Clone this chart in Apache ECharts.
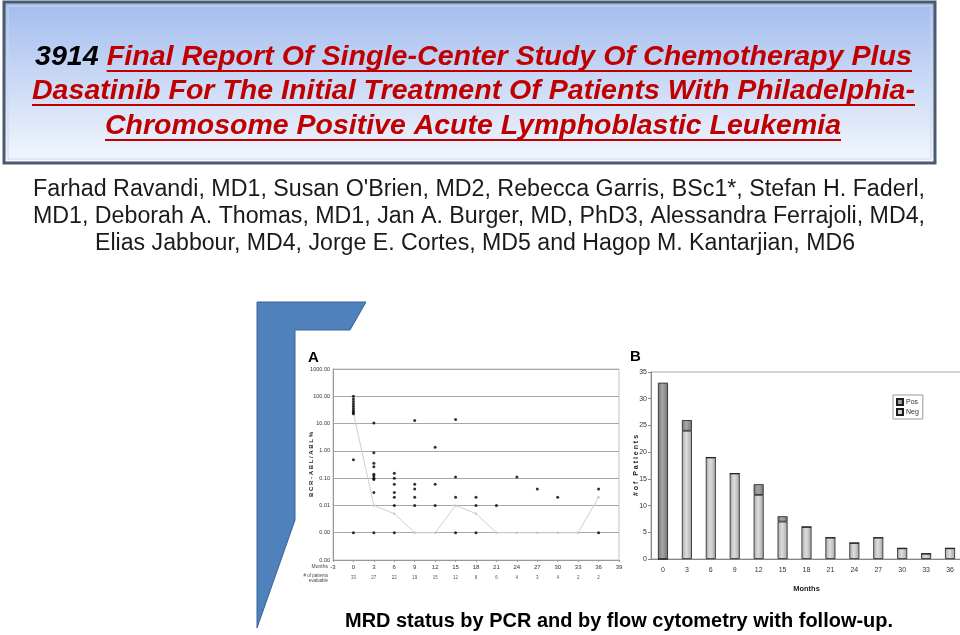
<!DOCTYPE html>
<html><head><meta charset="utf-8">
<script src="https://cdn.jsdelivr.net/npm/echarts@6/dist/echarts.min.js"></script>
<style>html,body{margin:0;padding:0;background:#fff}#c{width:960px;height:635px}</style>
</head><body><div id="c"></div>
<script>
// ---------- texts ----------
const titleNumber = '3914 ';
const titleLines = [
  'Final Report Of Single-Center Study Of Chemotherapy Plus',
  'Dasatinib For The Initial Treatment Of Patients With Philadelphia-',
  'Chromosome Positive Acute Lymphoblastic Leukemia'
];
const authorLines = [
  "Farhad Ravandi, MD1, Susan O'Brien, MD2, Rebecca Garris, BSc1*, Stefan H. Faderl,",
  'MD1, Deborah A. Thomas, MD1, Jan A. Burger, MD, PhD3, Alessandra Ferrajoli, MD4,',
  'Elias Jabbour, MD4, Jorge E. Cortes, MD5 and Hagop M. Kantarjian, MD6'
];
const captionText = 'MRD status by PCR and by flow cytometry with follow-up.';

// ---------- panel A data ----------
const evaluableMonths = [0, 3, 6, 9, 12, 15, 18, 21, 24, 27, 30, 33, 36];
const evaluableCounts = [33, 27, 22, 19, 15, 12, 8, 6, 4, 3, 4, 2, 2];
const pcrPoints = [
  [0,100],[0,80],[0,65],[0,52],[0,43],[0,36],[0,30],[0,26],[0,23],[0,0.47],[0,0.001],
  [3,10.5],[3,0.85],[3,0.35],[3,0.26],[3,0.14],[3,0.12],[3,0.1],[3,0.09],[3,0.03],[3,0.001],
  [6,0.15],[6,0.1],[6,0.06],[6,0.03],[6,0.02],[6,0.01],[6,0.001],
  [9,13],[9,0.06],[9,0.04],[9,0.02],[9,0.01],
  [12,1.35],[12,0.06],[12,0.01],
  [15,14],[15,0.11],[15,0.02],[15,0.001],
  [18,0.02],[18,0.01],[18,0.001],
  [21,0.01],
  [24,0.11],
  [27,0.04],
  [30,0.02],
  [36,0.04],[36,0.001]
];
const medianMonths = [0, 3, 6, 9, 12, 15, 18, 21, 24, 27, 30, 33, 36];
const medianValues = [24, 0.01, 0.005, 0.001, 0.001, 0.01, 0.005, 0.001, 0.001, 0.001, 0.001, 0.001, 0.02];

// ---------- panel B data ----------
const barCategories = ['0','3','6','9','12','15','18','21','24','27','30','33','36'];
const negValues = [0, 24, 19, 16, 12, 7, 6, 4, 3, 4, 2, 1, 2];
const posValues = [33, 2, 0, 0, 2, 1, 0, 0, 0, 0, 0, 0, 0];

// ---------- helpers ----------
const FF = '"Liberation Sans", Arial, sans-serif';
const mctx = document.createElement('canvas').getContext('2d');
function measure(t, size, weight, style) {
  mctx.font = (style || 'normal') + ' ' + (weight || 'normal') + ' ' + size + 'px ' + FF;
  return mctx.measureText(t).width;
}
function txt(x, y, text, size, o) {
  o = o || {};
  return {
    type: 'text', x: x, y: y, scaleX: o.sx || 1, z: o.z || 10, silent: true,
    style: {
      text: text, fontSize: size, fontFamily: FF, fontWeight: o.weight || 'normal',
      fontStyle: o.style || 'normal', fill: o.fill || '#222',
      textAlign: o.align || 'left', align: o.align || 'left',
      textVerticalAlign: 'middle', verticalAlign: 'middle'
    }
  };
}
const g = [];

// title box
g.push({ type: 'rect', z: 1, silent: true, shape: { x: 4, y: 2, width: 931, height: 161 },
  style: { fill: new echarts.graphic.LinearGradient(0, 0, 0, 1, [
    { offset: 0, color: '#a2bcee' }, { offset: 1, color: '#f4f7fd' }]),
    stroke: '#4b5a70', lineWidth: 3 } });
g.push({ type: 'rect', z: 2, silent: true, shape: { x: 8, y: 6, width: 923, height: 153 },
  style: { fill: null, stroke: '#cfd8e8', lineWidth: 1 } });

// title lines
const TS = 28;
const titleTargets = [[35, 912, 57], [32, 915, 91], [105, 841, 126]];
titleLines.forEach(function (line, i) {
  const t = titleTargets[i];
  const pre = i === 0 ? titleNumber : '';
  const w0 = pre ? measure(pre, TS, 'bold', 'italic') : 0;
  const w1 = measure(line, TS, 'bold', 'italic');
  const sx = (t[1] - t[0]) / (w0 + w1);
  if (pre) g.push(txt(t[0], t[2], pre, TS, { sx: sx, weight: 'bold', style: 'italic', fill: '#000' }));
  const xr = t[0] + w0 * sx;
  g.push(txt(xr, t[2], line, TS, { sx: sx, weight: 'bold', style: 'italic', fill: '#c00000' }));
  g.push({ type: 'line', z: 10, silent: true, shape: { x1: xr, y1: t[2] + 14, x2: t[1], y2: t[2] + 14 },
    style: { stroke: '#c00000', lineWidth: 2 } });
});

// authors
const AS = 23;
const authorTargets = [[33, 925, 190], [33, 925, 217], [95, 855, 244]];
authorLines.forEach(function (line, i) {
  const t = authorTargets[i];
  const sx = (t[1] - t[0]) / measure(line, AS);
  g.push(txt(t[0], t[2], line, AS, { sx: sx, fill: '#1a1a1a' }));
});

// caption
(function () {
  const sx = (893 - 345) / measure(captionText, 20, 'bold');
  g.push(txt(345, 621, captionText, 20, { sx: sx, weight: 'bold', fill: '#000' }));
})();

// blue shape
g.push({ type: 'polygon', z: 1, silent: true,
  shape: { points: [[257, 302], [366, 302], [350, 330], [295, 330], [295, 520], [257, 628]] },
  style: { fill: '#4f81bd', stroke: '#3a6297', lineWidth: 1 } });

// panel letters
g.push(txt(308, 358, 'A', 15, { weight: 'bold', fill: '#000' }));
g.push(txt(630, 357, 'B', 15, { weight: 'bold', fill: '#000' }));
// row headings panel A
g.push(txt(328, 567, 'Months', 5, { align: 'right', fill: '#444' }));
g.push(txt(328, 578, '# of patients\nevaluable', 4.5, { align: 'right', fill: '#444' }));

const axisFont = { fontFamily: FF, color: '#333' };

const option = {
  animation: false,
  backgroundColor: '#fff',
  graphic: { elements: g },
  legend: {
    data: ['Pos', 'Neg'], orient: 'vertical', left: 893, top: 395,
    itemWidth: 6, itemHeight: 6, itemGap: 2, padding: [3, 4, 3, 3],
    borderColor: '#999', borderWidth: 1, backgroundColor: '#fff',
    icon: 'rect', textStyle: { fontSize: 7, fontFamily: FF, color: '#333', padding: [0, 0, 0, -2] }
  },
  grid: [
    { left: 333, top: 369, width: 286, height: 191, show: true, borderColor: '#c4c4c4', borderWidth: 1, outerBoundsMode: 'none' },
    { left: 651, top: 372, width: 311, height: 187, show: true, borderColor: '#a8a8a8', borderWidth: 1, outerBoundsMode: 'none' }
  ],
  xAxis: [
    { type: 'value', gridIndex: 0, min: -3, max: 39, interval: 3,
      axisLine: { show: true, onZero: false, lineStyle: { color: '#999' } },
      axisTick: { show: true, length: 2, lineStyle: { color: '#999' } },
      splitLine: { show: false },
      axisLabel: Object.assign({ fontSize: 6, margin: 4, showMinLabel: true, showMaxLabel: true }, axisFont) },
    { type: 'value', gridIndex: 0, min: -3, max: 39, interval: 3, position: 'bottom', offset: 13,
      axisLine: { show: false, onZero: false }, axisTick: { show: false }, splitLine: { show: false },
      axisLabel: Object.assign({ fontSize: 4.5, margin: 2, showMinLabel: true, showMaxLabel: true,
        formatter: function (v) { const i = evaluableMonths.indexOf(Math.round(v)); return i >= 0 ? String(evaluableCounts[i]) : ''; } },
        axisFont, { color: '#555' }) },
    { type: 'category', gridIndex: 1, data: barCategories,
      axisLine: { show: true, onZero: false, lineStyle: { color: '#888' } },
      axisTick: { show: false },
      axisLabel: Object.assign({ fontSize: 7, margin: 8 }, axisFont),
      name: 'Months', nameLocation: 'middle', nameGap: 26, nameMoveOverlap: false,
      nameTextStyle: { fontSize: 7.5, fontWeight: 'bold', fontFamily: FF, color: '#222' } }
  ],
  yAxis: [
    { type: 'log', logBase: 10, gridIndex: 0, min: 0.0001, max: 1000,
      axisLine: { show: true, onZero: false, lineStyle: { color: '#999' } },
      axisTick: { show: false },
      splitLine: { show: true, lineStyle: { color: '#a8a8a8', width: 1 } },
      axisLabel: Object.assign({ fontSize: 5.5, margin: 3, formatter: function (v) { return Number(v).toFixed(2); } }, axisFont),
      name: 'B C R - A B L / A B L %', nameLocation: 'middle', nameGap: 19, nameRotate: 90, nameMoveOverlap: false,
      nameTextStyle: { fontSize: 6, fontWeight: 'bold', fontFamily: FF, color: '#222' } },
    { type: 'value', gridIndex: 1, min: 0, max: 35, interval: 5,
      axisLine: { show: true, onZero: false, lineStyle: { color: '#888' } },
      axisTick: { show: true, length: 3, lineStyle: { color: '#888' } },
      splitLine: { show: false },
      axisLabel: Object.assign({ fontSize: 7, margin: 4 }, axisFont),
      name: '# o f   P a t i e n t s', nameLocation: 'middle', nameGap: 11, nameRotate: 90, nameMoveOverlap: false,
      nameTextStyle: { fontSize: 7, fontWeight: 'bold', fontFamily: FF, color: '#222' } }
  ],
  series: [
    { name: 'median', type: 'line', xAxisIndex: 0, yAxisIndex: 0,
      data: medianMonths.map(function (m, i) { return [m, medianValues[i]]; }),
      symbol: 'circle', symbolSize: 2.5, itemStyle: { color: '#c8c8c8' },
      lineStyle: { color: '#d0d0d0', width: 1 }, z: 2, silent: true },
    { name: 'PCR', type: 'scatter', xAxisIndex: 0, yAxisIndex: 0, data: pcrPoints,
      symbol: 'circle', symbolSize: 3, itemStyle: { color: '#000' }, z: 3, silent: true },
    { name: 'Neg', type: 'bar', xAxisIndex: 2, yAxisIndex: 1, stack: 'mrd', data: negValues, barWidth: 10,
      itemStyle: { color: new echarts.graphic.LinearGradient(0, 0, 1, 0, [
        { offset: 0, color: '#a9a9a9' }, { offset: 0.45, color: '#dedede' }, { offset: 1, color: '#a4a4a4' }]),
        borderColor: '#1e1e1e', borderWidth: 0.8 } },
    { name: 'Pos', type: 'bar', xAxisIndex: 2, yAxisIndex: 1, stack: 'mrd', data: posValues, barWidth: 10,
      itemStyle: { color: new echarts.graphic.LinearGradient(0, 0, 1, 0, [
        { offset: 0, color: '#7a7a7a' }, { offset: 0.45, color: '#a6a6a6' }, { offset: 1, color: '#747474' }]),
        borderColor: '#1e1e1e', borderWidth: 0.8 } }
  ]
};
const chart = echarts.init(document.getElementById('c'), null, { renderer: 'canvas' });
chart.setOption(option);
</script>
</body></html>
